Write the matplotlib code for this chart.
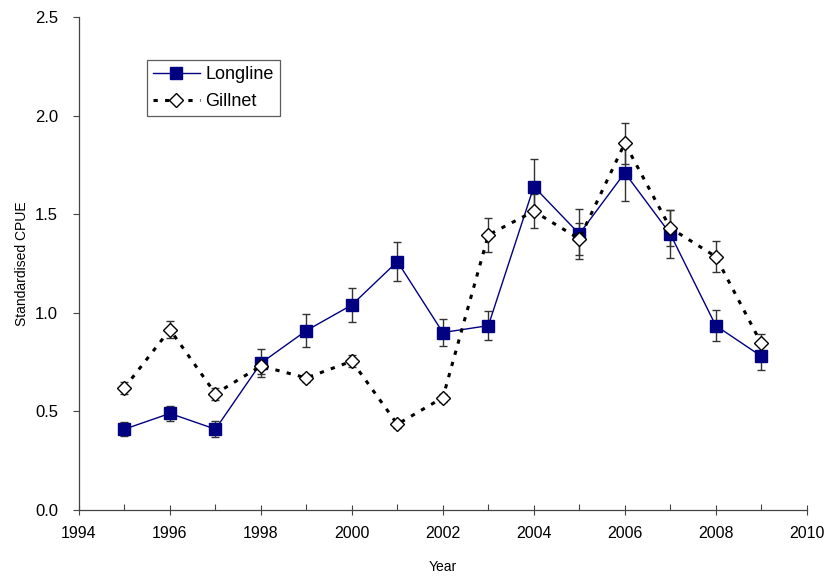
import matplotlib.pyplot as plt
import numpy as np

plt.rcParams['font.family'] = ['Liberation Sans', 'DejaVu Sans']

years = [1995, 1996, 1997, 1998, 1999, 2000, 2001, 2002, 2003, 2004, 2005, 2006, 2007, 2008, 2009]
longline = [0.41, 0.49, 0.41, 0.745, 0.91, 1.04, 1.26, 0.90, 0.935, 1.64, 1.40, 1.71, 1.40, 0.935, 0.78]
longline_err = [0.035, 0.04, 0.04, 0.07, 0.085, 0.085, 0.10, 0.07, 0.075, 0.14, 0.125, 0.145, 0.12, 0.08, 0.07]
gillnet = [0.62, 0.915, 0.59, 0.73, 0.67, 0.755, 0.435, 0.57, 1.395, 1.515, 1.375, 1.86, 1.43, 1.285, 0.845]
gillnet_err = [0.03, 0.045, 0.03, 0.04, 0.02, 0.03, 0.02, 0.02, 0.085, 0.085, 0.08, 0.105, 0.09, 0.08, 0.05]

fig = plt.figure(figsize=(8.27, 5.78), dpi=100)
ax = fig.add_axes([0.0955, 0.1176, 0.880, 0.853])

# error bars
ax.errorbar(years, longline, yerr=longline_err, fmt='none', ecolor='#333333',
            elinewidth=1.0, capsize=3, capthick=1.0, zorder=2)
ax.errorbar(years, gillnet, yerr=gillnet_err, fmt='none', ecolor='#333333',
            elinewidth=1.0, capsize=3, capthick=1.0, zorder=2)

# series
ax.plot(years, longline, color='#000080', lw=1.0, marker='s', ms=8,
        mfc='#000080', mec='#000080', label='Longline', zorder=3)
ax.plot(years, gillnet, color='black', lw=2.2, dashes=(1.4, 2.4), marker='D', ms=7,
        mfc='white', mec='black', mew=1.0, label='Gillnet', zorder=4)

ax.set_xlim(1994, 2010)
ax.set_ylim(0, 2.5)
ax.set_xticks(np.arange(1994, 2011, 2))
ax.set_xticks(np.arange(1995, 2010, 2), minor=True)
ax.set_yticks(np.arange(0, 2.51, 0.5))
ax.set_yticklabels(['%.1f' % v for v in np.arange(0, 2.51, 0.5)])

ax.tick_params(axis='x', which='major', direction='inout', length=7, width=0.8,
               labelsize=11.5, pad=8, color='#444444')
ax.tick_params(axis='x', which='minor', direction='in', length=4.3, width=0.8, color='#444444')
ax.tick_params(axis='y', which='major', direction='out', length=4, width=0.8,
               labelsize=12, pad=11, color='#444444')

for s in ['top', 'right']:
    ax.spines[s].set_visible(False)
for s in ['left', 'bottom']:
    ax.spines[s].set_color('#444444')
    ax.spines[s].set_linewidth(0.9)

ax.set_xlabel('Year', fontsize=10, labelpad=14)
ax.set_ylabel('Standardised CPUE', fontsize=10, labelpad=4)

leg = ax.legend(loc='upper left', bbox_to_anchor=(0.093, 0.913), borderaxespad=0,
                fontsize=13, frameon=True, fancybox=False, edgecolor='#333333',
                handlelength=2.6, borderpad=0.35, labelspacing=0.55, handletextpad=0.3)
leg.get_frame().set_linewidth(0.9)

fig.savefig('out.png', dpi=100)
